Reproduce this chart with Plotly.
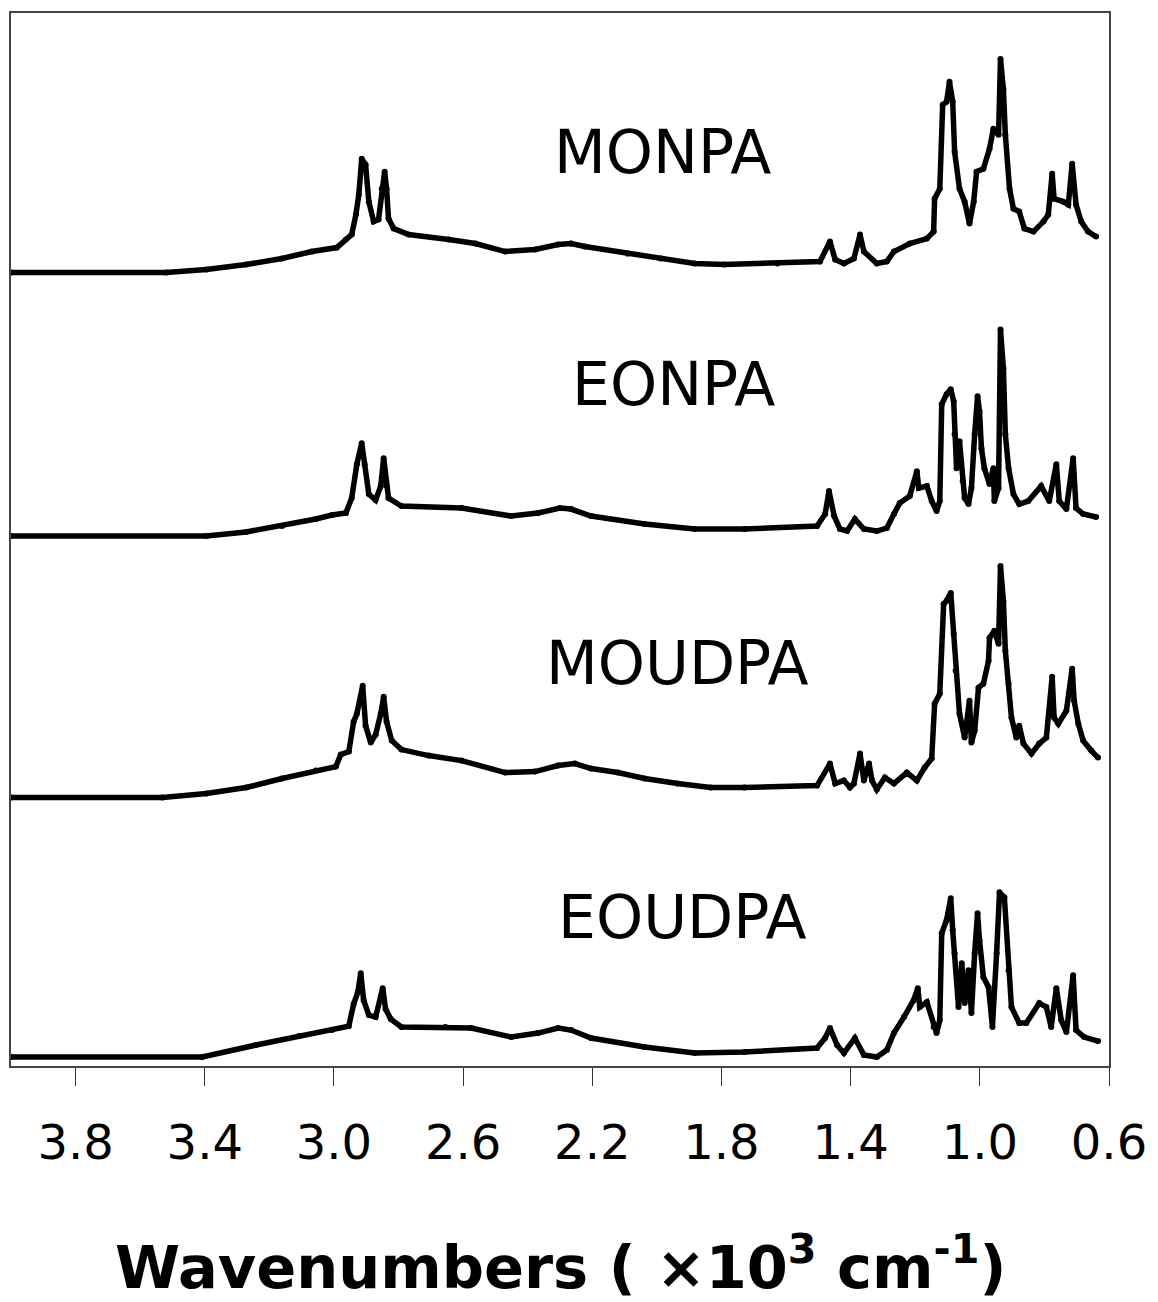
import plotly.graph_objects as go

# ---------------- data (wavenumber in 10^3 cm^-1, relative absorbance) ----------------
names = ["MONPA", "EONPA", "MOUDPA", "EOUDPA"]

monpa_x = [4.000, 3.519, 3.395, 3.272, 3.161, 3.068, 2.991, 2.963, 2.945, 2.932, 2.923, 2.914, 2.902, 2.892,
           2.877, 2.862, 2.852, 2.843, 2.837, 2.831, 2.815, 2.769, 2.645, 2.562, 2.470, 2.377, 2.306, 2.266,
           2.223, 2.090, 1.988, 1.883, 1.791, 1.627, 1.495, 1.464, 1.448, 1.421, 1.390, 1.371, 1.359, 1.319,
           1.288, 1.266, 1.217, 1.164, 1.143, 1.140, 1.124, 1.115, 1.103, 1.094, 1.084, 1.078, 1.063, 1.047,
           1.032, 1.019, 1.010, 0.989, 0.970, 0.958, 0.942, 0.936, 0.927, 0.921, 0.908, 0.896, 0.878, 0.862,
           0.834, 0.803, 0.788, 0.776, 0.770, 0.742, 0.726, 0.714, 0.702, 0.686, 0.665, 0.640]
monpa_y = [0.00, 0.00, 0.03, 0.08, 0.14, 0.21, 0.25, 0.33, 0.38, 0.58, 0.78, 1.14, 1.08, 0.71,
           0.51, 0.53, 0.84, 1.01, 0.84, 0.54, 0.44, 0.38, 0.33, 0.29, 0.21, 0.23, 0.28, 0.29,
           0.26, 0.19, 0.14, 0.09, 0.08, 0.09, 0.11, 0.31, 0.13, 0.09, 0.14, 0.38, 0.21, 0.09,
           0.11, 0.21, 0.29, 0.34, 0.41, 0.74, 0.84, 1.68, 1.71, 1.91, 1.71, 1.21, 0.84, 0.71,
           0.49, 0.71, 1.01, 1.04, 1.24, 1.44, 1.38, 2.14, 1.84, 1.38, 0.84, 0.64, 0.61, 0.44,
           0.41, 0.51, 0.58, 0.99, 0.74, 0.71, 0.68, 1.09, 0.68, 0.51, 0.41, 0.36]

eonpa_x = [4.000, 3.395, 3.272, 3.161, 3.056, 3.006, 2.963, 2.945, 2.929, 2.914, 2.905, 2.892, 2.871, 2.855,
           2.846, 2.837, 2.831, 2.791, 2.605, 2.451, 2.368, 2.300, 2.266, 2.204, 2.038, 1.883, 1.729, 1.504,
           1.479, 1.467, 1.451, 1.433, 1.411, 1.387, 1.359, 1.319, 1.288, 1.266, 1.248, 1.217, 1.195, 1.189,
           1.164, 1.149, 1.134, 1.124, 1.118, 1.103, 1.090, 1.081, 1.078, 1.072, 1.063, 1.053, 1.047, 1.035,
           1.026, 1.016, 1.007, 1.001, 0.995, 0.986, 0.970, 0.958, 0.955, 0.942, 0.936, 0.927, 0.921, 0.911,
           0.896, 0.878, 0.850, 0.810, 0.785, 0.763, 0.754, 0.732, 0.711, 0.702, 0.680, 0.640]
eonpa_y = [0.00, 0.00, 0.04, 0.10, 0.17, 0.21, 0.23, 0.38, 0.72, 0.93, 0.72, 0.42, 0.36, 0.50,
           0.78, 0.50, 0.38, 0.30, 0.28, 0.20, 0.23, 0.28, 0.27, 0.20, 0.12, 0.07, 0.07, 0.10,
           0.22, 0.45, 0.20, 0.07, 0.05, 0.17, 0.07, 0.05, 0.08, 0.22, 0.33, 0.40, 0.65, 0.48,
           0.50, 0.35, 0.25, 0.35, 1.32, 1.42, 1.47, 1.35, 1.02, 0.68, 0.95, 0.55, 0.38, 0.32,
           0.48, 1.02, 1.40, 1.25, 0.88, 0.68, 0.52, 0.68, 0.35, 0.48, 2.07, 1.68, 1.02, 0.68,
           0.42, 0.32, 0.35, 0.50, 0.35, 0.72, 0.35, 0.27, 0.78, 0.28, 0.22, 0.19]

moudpa_x = [4.000, 3.531, 3.395, 3.272, 3.161, 3.056, 2.994, 2.979, 2.954, 2.939, 2.929, 2.911, 2.902, 2.886,
            2.871, 2.855, 2.846, 2.837, 2.821, 2.791, 2.707, 2.605, 2.470, 2.377, 2.306, 2.254, 2.204, 2.121,
            2.038, 1.936, 1.834, 1.729, 1.504, 1.464, 1.448, 1.421, 1.402, 1.390, 1.371, 1.359, 1.343, 1.334,
            1.319, 1.294, 1.266, 1.226, 1.195, 1.171, 1.149, 1.140, 1.124, 1.112, 1.103, 1.090, 1.081, 1.075,
            1.063, 1.047, 1.032, 1.026, 1.016, 1.004, 0.989, 0.973, 0.970, 0.955, 0.942, 0.936, 0.927, 0.921,
            0.911, 0.902, 0.887, 0.878, 0.865, 0.840, 0.816, 0.794, 0.776, 0.770, 0.757, 0.732, 0.714, 0.708,
            0.695, 0.680, 0.655, 0.634]
moudpa_y = [0.00, 0.00, 0.04, 0.10, 0.19, 0.27, 0.31, 0.43, 0.46, 0.76, 0.84, 1.12, 0.72, 0.55,
            0.63, 0.84, 1.01, 0.76, 0.57, 0.48, 0.42, 0.37, 0.25, 0.26, 0.32, 0.34, 0.29, 0.25,
            0.19, 0.14, 0.10, 0.10, 0.12, 0.34, 0.14, 0.17, 0.10, 0.14, 0.44, 0.17, 0.34, 0.17,
            0.08, 0.20, 0.14, 0.25, 0.17, 0.30, 0.39, 0.94, 1.04, 1.94, 1.97, 2.05, 1.64, 1.27,
            0.84, 0.60, 0.97, 0.55, 0.67, 1.10, 1.14, 1.37, 1.60, 1.67, 1.54, 2.32, 1.97, 1.47,
            1.14, 0.80, 0.60, 0.72, 0.54, 0.44, 0.54, 0.60, 1.21, 0.80, 0.74, 0.87, 1.29, 0.97,
            0.74, 0.57, 0.47, 0.40]

eoudpa_x = [4.000, 3.408, 3.241, 3.108, 3.006, 2.954, 2.939, 2.926, 2.917, 2.908, 2.892, 2.871, 2.855, 2.849,
            2.840, 2.824, 2.791, 2.655, 2.575, 2.451, 2.368, 2.306, 2.266, 2.204, 2.038, 1.883, 1.729, 1.504,
            1.479, 1.464, 1.442, 1.421, 1.387, 1.359, 1.319, 1.288, 1.266, 1.235, 1.205, 1.192, 1.186, 1.164,
            1.143, 1.134, 1.124, 1.118, 1.103, 1.090, 1.084, 1.078, 1.066, 1.056, 1.047, 1.035, 1.026, 1.016,
            1.007, 1.001, 0.989, 0.973, 0.961, 0.948, 0.939, 0.924, 0.911, 0.902, 0.878, 0.856, 0.816, 0.794,
            0.779, 0.763, 0.748, 0.732, 0.711, 0.702, 0.677, 0.634]
eoudpa_y = [0.00, 0.00, 0.12, 0.21, 0.27, 0.31, 0.53, 0.65, 0.84, 0.57, 0.42, 0.40, 0.61, 0.69,
            0.48, 0.38, 0.30, 0.30, 0.29, 0.20, 0.24, 0.29, 0.27, 0.19, 0.10, 0.04, 0.05, 0.09,
            0.19, 0.29, 0.12, 0.04, 0.19, 0.02, 0.00, 0.07, 0.24, 0.40, 0.57, 0.69, 0.50, 0.55,
            0.30, 0.24, 0.37, 1.24, 1.37, 1.59, 1.27, 1.04, 0.50, 0.94, 0.54, 0.87, 0.44, 1.04,
            1.44, 1.17, 0.80, 0.70, 0.30, 1.04, 1.65, 1.60, 0.87, 0.50, 0.34, 0.34, 0.54, 0.50,
            0.30, 0.69, 0.37, 0.25, 0.82, 0.27, 0.20, 0.16]

tick_vals = [3.8, 3.4, 3.0, 2.6, 2.2, 1.8, 1.4, 1.0, 0.6]

# ---------------- layout/style (not data) ----------------
series_x = [monpa_x, eonpa_x, moudpa_x, eoudpa_x]
series_y = [monpa_y, eonpa_y, moudpa_y, eoudpa_y]
offsets = [7.95, 5.31, 2.69, 0.09]
label_pos = [(1.982, 9.16), (1.948, 6.83), (1.936, 4.04), (1.920, 1.49)]

W, H = 1158, 1302
ML, MR, MT, MB = 11, 45, 11, 236
plot_h = H - MT - MB

fig = go.Figure()
for nm, xs, ys, off in zip(names, series_x, series_y, offsets):
    fig.add_trace(go.Scatter(
        x=xs, y=[v + off for v in ys], mode="lines+markers", name=nm,
        line=dict(color="black", width=5.5),
        marker=dict(color="black", size=6),
        showlegend=False))

annotations = []
for nm, (lx, ly) in zip(names, label_pos):
    annotations.append(dict(x=lx, y=ly, xref="x", yref="y", text=nm, showarrow=False,
                            font=dict(family="DejaVu Sans", size=60, color="black"),
                            xanchor="center", yanchor="middle"))

# axis title centred ~198 px below the plot area
annotations.append(dict(x=0.5, y=-198 / plot_h,
                        xref="paper", yref="paper",
                        text="<b>Wavenumbers ( ×10<sup>3</sup> cm<sup>-1</sup>)</b>",
                        showarrow=False, xanchor="center", yanchor="middle",
                        font=dict(family="DejaVu Sans", size=59, color="black")))

fig.update_layout(
    width=W, height=H,
    margin=dict(l=ML, r=MR, t=MT, b=MB, pad=0),
    paper_bgcolor="white", plot_bgcolor="white",
    annotations=annotations,
    xaxis=dict(range=[4.0, 0.6], tickvals=tick_vals, tickformat=".1f",
               ticks="outside", ticklen=18, tickwidth=1.2, tickcolor="#333",
               showline=True, linecolor="#444", linewidth=1.5, mirror=True,
               showgrid=False, zeroline=False, ticklabelstandoff=16,
               tickfont=dict(family="DejaVu Sans", size=48, color="black")),
    yaxis=dict(range=[0, 10.55], showticklabels=False, ticks="",
               showline=True, linecolor="#444", linewidth=1.5, mirror=True,
               showgrid=False, zeroline=False),
)

fig.write_html("out.html")
